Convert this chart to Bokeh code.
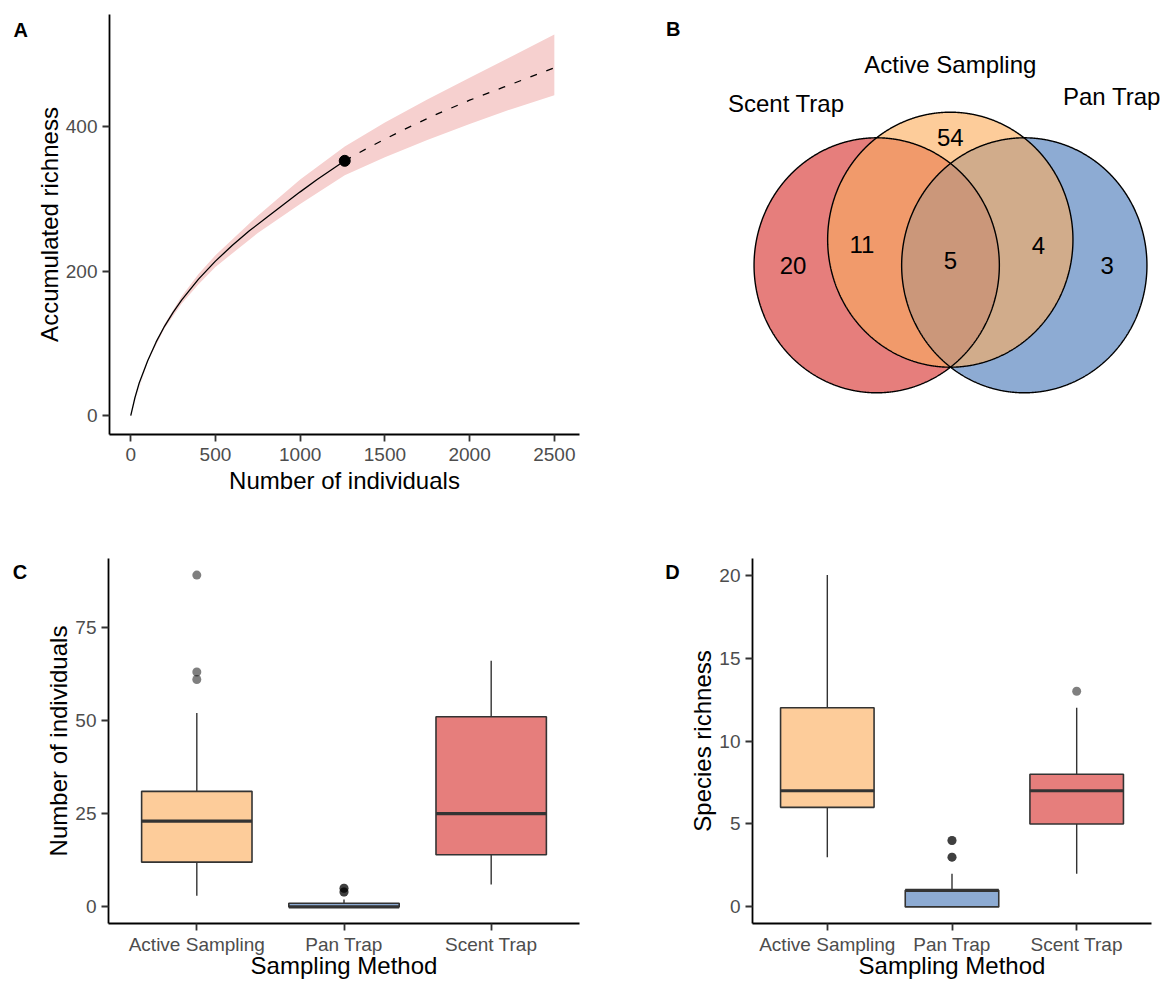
import numpy as np
from bokeh.plotting import figure
from bokeh.models import Range1d, FactorRange, FixedTicker
from bokeh.layouts import row, column
from bokeh.embed import file_html
from bokeh.resources import INLINE
from bokeh.core.properties import value

FONT = "Liberation Sans"

# ---------------- data: panel A (rarefaction / extrapolation) ----------------
rare_n = [0, 25, 50, 100, 150, 200, 250, 300, 400, 500, 600, 700, 800, 900, 1000, 1100, 1200, 1263]
rare_s = [0, 25, 45, 76, 102, 124, 143, 160, 189, 214, 236, 256, 274, 292, 310, 327, 343, 353]
extra_n = [1263, 1400, 1600, 1800, 2000, 2200, 2400, 2500]
extra_s = [353, 371, 395, 417, 437, 455, 473, 482]
band_n = [0, 100, 200, 300, 400, 500, 750, 1000, 1263, 1500, 1750, 2000, 2250, 2500]
band_lo = [0, 75, 121, 155, 182, 206, 253, 293, 333, 358, 382, 404, 425, 444]
band_hi = [0, 77, 127, 165, 196, 222, 277, 327, 373, 406, 438, 468, 498, 528]
obs_n = [1263]
obs_s = [353]

# ---------------- data: panel B (Venn) ----------------
venn_sets = ["Scent Trap", "Active Sampling", "Pan Trap"]
venn_regions = ["Scent only", "Scent & Active", "All three", "Active & Pan", "Pan only", "Active only"]
venn_counts = [20, 11, 5, 4, 3, 54]

# ---------------- data: panels C, D (box plots) ----------------
methods = ["Active Sampling", "Pan Trap", "Scent Trap"]
ind_lo = [3, 0, 6]
ind_q1 = [12, 0, 14]
ind_med = [23, 0, 25]
ind_q3 = [31, 1, 51]
ind_hi = [52, 2, 66]
ind_out_method = ["Active Sampling", "Active Sampling", "Active Sampling",
                  "Pan Trap", "Pan Trap", "Pan Trap", "Pan Trap"]
ind_out_value = [89, 63, 61, 4, 4, 5, 5]

rich_lo = [3, 0, 2]
rich_q1 = [6, 0, 5]
rich_med = [7, 1, 7]
rich_q3 = [12, 1, 8]
rich_hi = [20, 2, 12]
rich_out_method = ["Pan Trap", "Pan Trap", "Pan Trap", "Pan Trap", "Scent Trap"]
rich_out_value = [3, 3, 4, 4, 13]

method_colors = ["#FDCC9A", "#8DABD3", "#E67E7C"]

# layout (page pixels)
TOP_H, TOP_FRAME = 508, (14, 434)
BOT_H, BOT_FRAME = 473, (558, 923)


# ---------------- helpers ----------------
def style(p):
    p.grid.visible = False
    p.outline_line_color = None
    p.background_fill_color = "white"
    p.border_fill_color = "white"
    for ax in p.axis:
        ax.axis_line_color = "black"
        ax.axis_line_width = 1.8
        ax.major_tick_line_color = "#333333"
        ax.major_tick_line_width = 1.8
        ax.major_tick_out = 7
        ax.major_tick_in = 0
        ax.minor_tick_line_color = None
        ax.major_label_text_font = FONT
        ax.major_label_text_font_size = "19px"
        ax.major_label_text_color = "#4D4D4D"
        ax.axis_label_text_font = FONT
        ax.axis_label_text_font_size = "24px"
        ax.axis_label_text_font_style = "normal"
        ax.axis_label_text_color = "black"


def blank(width, x0, fig_top, fig_h, frame):
    """Axis-free figure whose frame rows match the row's frames; data units = page px."""
    ft, fb = frame
    p = figure(width=width, height=fig_h, x_range=Range1d(x0, x0 + width),
               y_range=Range1d(fb, ft), min_border_left=0, min_border_right=0,
               min_border_top=ft - fig_top, min_border_bottom=fig_top + fig_h - fb,
               toolbar_location=None, output_backend="svg")
    p.axis.visible = False
    p.grid.visible = False
    p.outline_line_color = None
    return p


def letter(p, txt, x, y):
    p.text(x=[x], y=[y], text=[txt], text_font=value(FONT), text_font_size="20px",
           text_font_style="bold", text_color="black", text_align="left",
           text_baseline="middle")


# ---------------- panel A ----------------
letA = blank(32, 0, 0, TOP_H, TOP_FRAME)
letter(letA, "A", 13, 29.5)

pA = figure(width=548, height=TOP_H, x_range=Range1d(-125.4, 2648.5), y_range=Range1d(-26.3, 555.8),
            min_border_left=76, min_border_right=1, min_border_top=14, min_border_bottom=74,
            toolbar_location=None, output_backend="svg")
pA.varea(x=band_n, y1=band_lo, y2=band_hi, fill_color="#F6D0CF", fill_alpha=1)
pA.line(rare_n, rare_s, line_color="black", line_width=1.3)
pA.line(extra_n, extra_s, line_color="black", line_width=1.3, line_dash="7 10")
pA.scatter(obs_n, obs_s, size=11, fill_color="black", line_color="black")
pA.xaxis.ticker = FixedTicker(ticks=[0, 500, 1000, 1500, 2000, 2500])
pA.yaxis.ticker = FixedTicker(ticks=[0, 200, 400])
pA.xaxis.axis_label = "Number of individuals"
pA.yaxis.axis_label = "Accumulated richness"
style(pA)
pA.xaxis.major_label_standoff = 6
pA.xaxis.axis_label_standoff = 3
pA.yaxis.major_label_standoff = 5
pA.yaxis.axis_label_standoff = 0

# ---------------- panel B (Venn) ----------------
pB = blank(583, 580, 0, TOP_H, TOP_FRAME)

venn_a, venn_b = 122.65, 127.5
venn_centers = {"Scent Trap": (876.2, 264.8), "Active Sampling": (949.8, 239.2), "Pan Trap": (1023.8, 264.8)}
set_fill = {"Scent Trap": "#E67E7C", "Active Sampling": "#FDCC9A", "Pan Trap": "#8DABD3"}

t = np.linspace(0, 2 * np.pi, 1441)


def boundary(name):
    cx, cy = venn_centers[name]
    return cx + venn_a * np.cos(t), cy + venn_b * np.sin(t)


def inside(name, x, y):
    cx, cy = venn_centers[name]
    return ((x - cx) / venn_a) ** 2 + ((y - cy) / venn_b) ** 2 <= 1.0 + 1e-9


def intersection(names):
    px, py = [], []
    for n in names:
        bx, by = boundary(n)
        m = np.ones_like(bx, dtype=bool)
        for o in names:
            if o != n:
                m &= inside(o, bx, by)
        px.extend(bx[m]); py.extend(by[m])
    px, py = np.array(px), np.array(py)
    mx, my = px.mean(), py.mean()
    order = np.argsort(np.arctan2(py - my, px - mx))
    return px[order], py[order]


for n in ["Scent Trap", "Pan Trap", "Active Sampling"]:
    bx, by = boundary(n)
    pB.patch(bx, by, fill_color=set_fill[n], line_color=None)
for names, col in [(["Scent Trap", "Active Sampling"], "#F19A6B"),
                   (["Active Sampling", "Pan Trap"], "#D1AC8B"),
                   (["Scent Trap", "Active Sampling", "Pan Trap"], "#CB977A")]:
    ix, iy = intersection(names)
    pB.patch(ix, iy, fill_color=col, line_color=None)
for n in venn_sets:
    bx, by = boundary(n)
    pB.line(np.append(bx, bx[0]), np.append(by, by[0]), line_color="black", line_width=1.4)

set_label_pos = {"Scent Trap": (785.7, 102.6, "center"),
                 "Active Sampling": (949.8, 64.3, "center"),
                 "Pan Trap": (1062.5, 95.9, "left")}
for n in venn_sets:
    x, y, al = set_label_pos[n]
    pB.text(x=[x], y=[y], text=[n], text_font=value(FONT), text_font_size="24px",
            text_align=al, text_baseline="middle", text_color="black")

region_pos = [(792.6, 264.8), (861.4, 244.3), (949.8, 259.5), (1037.9, 244.7), (1106.7, 264.8), (949.8, 137.3)]
pB.text(x=[p[0] for p in region_pos], y=[p[1] for p in region_pos],
        text=[str(c) for c in venn_counts], text_font=value(FONT), text_font_size="24px",
        text_align="center", text_baseline="middle", text_color="black")
letter(pB, "B", 665.5, 28.5)


# ---------------- panels C, D ----------------
def boxplot(width, min_left, min_right, lo, q1, med, q3, hi, out_m, out_v, yr, ticks, ylabel):
    p = figure(width=width, height=BOT_H,
               x_range=FactorRange(factors=methods, range_padding=0.1, range_padding_units="absolute"),
               y_range=Range1d(*yr),
               min_border_left=min_left, min_border_right=min_right,
               min_border_top=BOT_FRAME[0] - TOP_H, min_border_bottom=TOP_H + BOT_H - BOT_FRAME[1],
               toolbar_location=None, output_backend="svg")
    p.segment(x0=methods, y0=lo, x1=methods, y1=q1, line_color="#333333", line_width=1.4)
    p.segment(x0=methods, y0=q3, x1=methods, y1=hi, line_color="#333333", line_width=1.4)
    p.vbar(x=methods, width=0.75, bottom=q1, top=q3, fill_color=method_colors,
           line_color="#333333", line_width=1.6)
    p.rect(x=methods, y=med, width=0.75, height=3.2, height_units="screen",
           fill_color="#333333", line_color=None)
    p.scatter(x=out_m, y=out_v, size=9, fill_color="black", fill_alpha=0.5, line_color=None)
    p.yaxis.ticker = FixedTicker(ticks=ticks)
    p.xaxis.axis_label = "Sampling Method"
    p.yaxis.axis_label = ylabel
    style(p)
    p.xaxis.major_label_standoff = 3
    p.xaxis.axis_label_standoff = -6
    p.yaxis.major_label_standoff = 5
    p.yaxis.axis_label_standoff = 0
    return p


letC = blank(32, 0, TOP_H, BOT_H, BOT_FRAME)
letter(letC, "C", 12.3, 571.5)
pC = boxplot(548, 76, 1, ind_lo, ind_q1, ind_med, ind_q3, ind_hi, ind_out_method, ind_out_value,
             (-4.45, 93.45), [0, 25, 50, 75], "Number of individuals")
letD = blank(106, 580, TOP_H, BOT_H, BOT_FRAME)
letter(letD, "D", 664.7, 571.5)
pD = boxplot(477, 62, 12, rich_lo, rich_q1, rich_med, rich_q3, rich_hi, rich_out_method, rich_out_value,
             (-1.0, 21.0), [0, 5, 10, 15, 20], "Species richness")

layout = column(row(letA, pA, pB), row(letC, pC, letD, pD))
open("out.html", "w").write(file_html(layout, INLINE))
